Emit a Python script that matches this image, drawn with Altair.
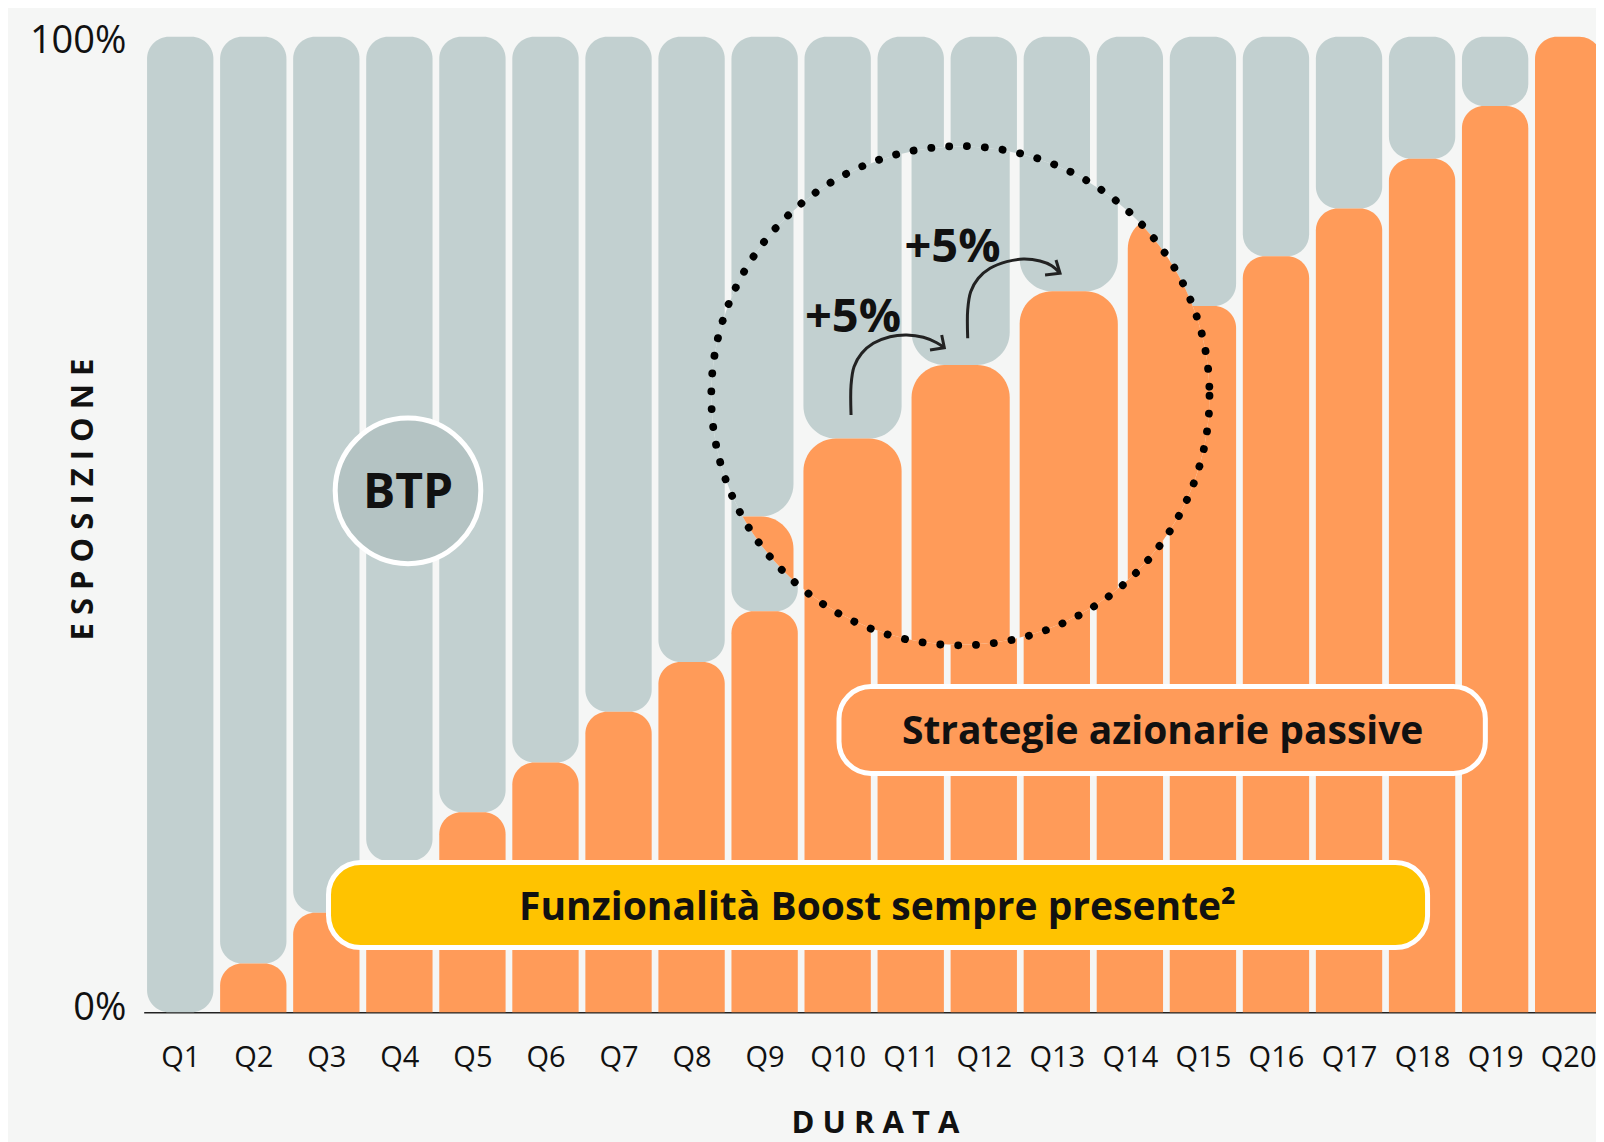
import json
import altair as alt
import pandas as pd

# ---------------- data ----------------
quarters = ["Q1", "Q2", "Q3", "Q4", "Q5", "Q6", "Q7", "Q8", "Q9", "Q10",
            "Q11", "Q12", "Q13", "Q14", "Q15", "Q16", "Q17", "Q18", "Q19", "Q20"]
positions = [1, 2, 3, 4, 5, 6, 7, 8, 9, 10, 11, 12, 13, 14, 15, 16, 17, 18, 19, 20]
equity = [0, 5.0, 10.2, 15.5, 20.5, 25.6, 30.8, 35.9, 41.1, 45.9,
          51.3, 56.4, 61.5, 66.7, 72.4, 77.5, 82.4, 87.5, 92.9, 100]
y_ticks = [0, 100]

# magnifier (lens) settings, in data units
lens_cx, lens_cy, lens_m = 12.66, 35.65, 1.48
lens_first, lens_last = 8, 16
circ_cx, circ_cy, circ_r = 11.68, 63.2, 3.41

# arrows (data units)
arrow_id = [1] * 10 + [2] * 10
arrow_x = [10.183, 10.183, 10.224, 10.329, 10.488, 10.717, 10.945, 11.173, 11.356, 11.460,
           11.780, 11.780, 11.821, 11.925, 12.086, 12.314, 12.542, 12.770, 12.930, 13.044]
arrow_y = [61.22, 64.29, 66.17, 67.55, 68.57, 69.25, 69.42, 69.19, 68.63, 68.12,
           69.09, 71.99, 73.86, 75.24, 76.26, 76.94, 77.21, 77.01, 76.53, 75.75]
head_id = [1, 1, 1, 2, 2, 2]
head_x = [11.424, 11.460, 11.264, 12.989, 13.044, 12.839]
head_y = [69.42, 68.12, 67.89, 77.11, 75.75, 75.57]

step_text = ["+5%", "+5%"]
step_x = [10.21, 11.572]
step_y = [69.76, 76.94]

btp_text = ["BTP"]
btp_x = [4.118]
btp_y = [53.45]
btp_text_y = [51.66]

box_text = ["Funzionalità Boost sempre presente²", "Strategie azionarie passive"]
box_x = [3.030, 10.018]
box_x2 = [18.075, 18.866]
box_y = [15.35, 33.39]
box_y2 = [6.64, 24.48]
box_tx = [10.545, 14.449]
box_ty = [9.46, 27.5]
box_fill = ["#ffc300", "#ff9b59"]

# ---------------- styles ----------------
BG = "#f5f6f5"
GREY = "#c2d0d0"
ORANGE = "#ff9b59"
BTPC = "#b4c3c3"
INK = "#111111"
FONT = "Open Sans"
HALF = 0.454
RADIUS = 22
PLOT_W = 1452.3
PITCH = 73.05
X_MAX = 0.5 + PLOT_W / PITCH

xs = alt.Scale(domain=[0.5, X_MAX], nice=False, zero=False)
ys = alt.Scale(domain=[0, 100], nice=False, zero=False)

x_axis = alt.Axis(
    values=positions,
    labelExpr=f"{json.dumps(quarters)}[datum.value - 1]",
    ticks=False, grid=False, domain=True, domainColor="#222222", domainWidth=1.5,
    labelPadding=31, labelBaseline="top", labelFontSize=29, labelColor=INK,
    labelFont=FONT, labelAngle=0, labelOverlap=False, labelFlush=False,
    title="D U R A T A", titleFont=FONT, titleFontSize=31, titleFontWeight="bold",
    titleColor=INK, titleX=731.3, titleY=111, titleAlign="center",
    titleBaseline="middle",
)
y_axis = alt.Axis(
    values=y_ticks, labelExpr="datum.value + '%'",
    ticks=False, grid=False, domain=False,
    labelPadding=17.7, labelFontSize=38, labelColor=INK, labelFont=FONT,
    labelFlush=False, labelOverlap=False,
    labelOffset=alt.condition("datum.value == 100", alt.value(4.7), alt.value(-4.3)),
    title="E S P O S I Z I O N E", titleFont=FONT, titleFontSize=31,
    titleFontWeight="bold", titleColor=INK, titleX=-60.4, titleY=462.3,
    titleAngle=270, titleAlign="center", titleBaseline="middle",
)


def X(f):
    return alt.X(f, type="quantitative", scale=xs, axis=x_axis)


def Y(f):
    return alt.Y(f, type="quantitative", scale=ys, axis=y_axis)


df = pd.DataFrame({"q": quarters, "i": positions, "eq": equity})

base = alt.Chart(df).transform_calculate(
    x0=f"datum.i - {HALF}", x1=f"datum.i + {HALF}"
)

grey = base.transform_filter("datum.eq < 100").mark_rect(
    cornerRadius=RADIUS, color=GREY
).encode(x=X("x0"), x2="x1:Q", y=Y("eq"), y2=alt.datum(100))

orange = base.transform_filter("datum.eq > 0").mark_rect(
    cornerRadiusTopLeft=RADIUS, cornerRadiusTopRight=RADIUS, color=ORANGE
).encode(x=X("x0"), x2="x1", y=Y("eq"), y2=alt.datum(0))

# ---- magnifier: enlarged bars clipped to the dotted circle ----
cx = f"scale('x', {circ_cx})"
cy = f"scale('y', {circ_cy})"
rr = f"(scale('x', {circ_cx + circ_r}) - scale('x', {circ_cx}))"
clip_expr = (
    f"pathShape('M' + ({cx} - {rr}) + ',' + {cy} + 'A' + {rr} + ',' + {rr} + ',0,1,0,' + "
    f"({cx} + {rr}) + ',' + {cy} + 'A' + {rr} + ',' + {rr} + ',0,1,0,' + "
    f"({cx} - {rr}) + ',' + {cy} + 'Z')"
)
clip = {"expr": clip_expr}

lens_base = base.transform_filter(
    f"datum.i >= {lens_first} && datum.i <= {lens_last}"
).transform_calculate(
    lx0=f"{lens_cx} + {lens_m} * (datum.x0 - {lens_cx})",
    lx1=f"{lens_cx} + {lens_m} * (datum.x1 - {lens_cx})",
    ly=f"{lens_cy} + {lens_m} * (datum.eq - {lens_cy})",
    lbot=f"{lens_cy} + {lens_m} * (0 - {lens_cy})",
    ltop=f"{lens_cy} + {lens_m} * (100 - {lens_cy})",
)

lens_bg = alt.Chart(pd.DataFrame({
    "a": [circ_cx - circ_r - 0.3], "b": [circ_cx + circ_r + 0.3],
    "c": [circ_cy - 30], "d": [circ_cy + 30]})
).mark_rect(color=BG, clip=clip).encode(x=X("a"), x2="b", y=Y("c"), y2="d")

lens_grey = lens_base.transform_filter("datum.eq < 100").mark_rect(
    cornerRadius=RADIUS * lens_m, color=GREY, clip=clip
).encode(x=X("lx0"), x2="lx1", y=Y("ly"), y2="ltop")

lens_orange = lens_base.transform_filter("datum.eq > 0").mark_rect(
    cornerRadiusTopLeft=RADIUS * lens_m, cornerRadiusTopRight=RADIUS * lens_m,
    color=ORANGE, clip=clip
).encode(x=X("lx0"), x2="lx1", y=Y("ly"), y2="lbot")

circle_px = 2 * circ_r * PITCH
ring = alt.Chart(pd.DataFrame({"x": [circ_cx], "y": [circ_cy]})).mark_point(
    shape="circle", filled=False, size=circle_px ** 2, color="black", opacity=1,
    strokeWidth=7.8, strokeDash=[0.1, 17.8], strokeCap="round"
).encode(x=X("x"), y=Y("y"))

arrows = alt.Chart(pd.DataFrame({
    "g": arrow_id, "x": arrow_x, "y": arrow_y, "k": list(range(len(arrow_x)))})
).mark_line(color="#222222", strokeWidth=3, interpolate="catmull-rom").encode(
    x=X("x"), y=Y("y"), detail="g:N", order="k:Q")

heads = alt.Chart(pd.DataFrame({
    "g": head_id, "x": head_x, "y": head_y, "k": list(range(len(head_x)))})
).mark_line(color="#222222", strokeWidth=3, strokeJoin="miter").encode(
    x=X("x"), y=Y("y"), detail="g:N", order="k:Q")

steps = alt.Chart(pd.DataFrame({"t": step_text, "x": step_x, "y": step_y})).mark_text(
    font=FONT, fontSize=47, fontWeight="bold", color=INK, baseline="alphabetic"
).encode(x=X("x"), y=Y("y"), text="t:N")

btp_df = pd.DataFrame({"t": btp_text, "x": btp_x, "y": btp_y, "ty": btp_text_y})
btp_circle = alt.Chart(btp_df).mark_point(
    shape="circle", filled=True, fill=BTPC, stroke="white", strokeWidth=5,
    opacity=1, size=145.6 ** 2
).encode(x=X("x"), y=Y("y"))
btp_label = alt.Chart(btp_df).mark_text(
    font=FONT, fontSize=48, fontWeight="bold", color=INK, baseline="alphabetic"
).encode(x=X("x"), y=Y("ty"), text="t:N")

box_df = pd.DataFrame({"t": box_text, "x": box_x, "x2": box_x2, "y": box_y,
                       "y2": box_y2, "tx": box_tx, "ty": box_ty, "f": box_fill})
boxes = alt.Chart(box_df).mark_rect(
    cornerRadius=32, stroke="white", strokeWidth=5
).encode(x=X("x"), x2="x2", y=Y("y"), y2="y2",
         fill=alt.Fill("f:N", scale=None))
box_labels = alt.Chart(box_df).mark_text(
    font=FONT, fontSize=39, fontWeight="bold", color=INK, baseline="alphabetic"
).encode(x=X("tx"), y=Y("ty"), text="t:N")

chart = alt.layer(
    grey, orange, lens_bg, lens_grey, lens_orange, ring, arrows, heads, steps,
    btp_circle, btp_label, boxes, box_labels
).properties(
    width=PLOT_W, height=975.6,
    padding={"left": 135.7, "top": 28.7, "right": 0, "bottom": 129.7},
    autosize=alt.AutoSizeParams(type="none"),
).configure(background=BG).configure_view(stroke=None)

chart.save("out.html", embed_options={"renderer": "svg", "actions": False})
